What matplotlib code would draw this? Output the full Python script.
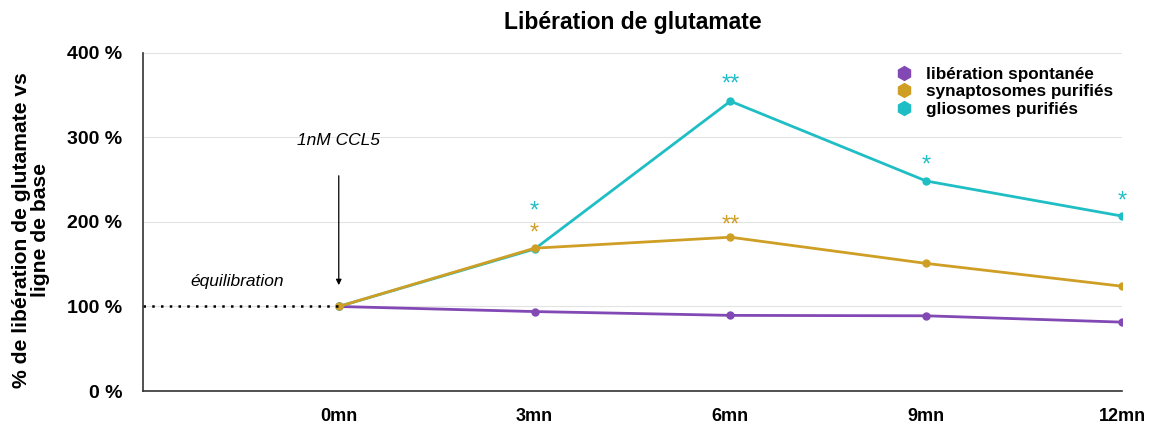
import matplotlib.pyplot as plt
from matplotlib.lines import Line2D

plt.rcParams['font.family'] = ['Liberation Sans', 'DejaVu Sans']

# data
times = ['0mn', '3mn', '6mn', '9mn', '12mn']
spontanee = [100, 94, 89.5, 89, 81.5]
synaptosomes = [100, 169, 182, 151, 124]
gliosomes = [100, 168, 343, 248.5, 207]

# significance stars: (index, y value, label)
stars_glio = [(1, 222, '*'), (2, 373, '**'), (3, 277, '*'), (4, 234, '*')]
stars_syn = [(1, 196, '*'), (2, 206, '**')]

c_spont = '#8248b4'
c_syn = '#cf9f25'
c_glio = '#1fbec4'

fig = plt.figure(figsize=(11.5, 4.25), dpi=100)
ax = fig.add_axes([0.1243, 0.08, 0.8514, 0.7953])

x = list(range(len(times)))
ax.plot(x, spontanee, color=c_spont, lw=2, marker='o', ms=5)
ax.plot(x, gliosomes, color=c_glio, lw=2, marker='o', ms=5)
ax.plot(x, synaptosomes, color=c_syn, lw=2, marker='o', ms=5)

# baseline dotted line
ax.plot([-1, 0], [100, 100], color='black', lw=1.8, ls=(0, (1, 2.5)))

for stars, col in ((stars_glio, c_glio), (stars_syn, c_syn)):
    for i, y, s in stars:
        ax.annotate(s, (i, y), xytext=(0, -6), textcoords='offset points',
                    color=col, ha='center', va='center', fontsize=17)

ax.annotate('', xy=(0, 122), xytext=(0, 258),
            arrowprops=dict(arrowstyle='-|>', color='black', lw=0.9, mutation_scale=8))
ax.text(0.0, 296, '1nM CCL5', style='italic', fontsize=12.5, ha='center', va='center')
ax.text(-0.52, 129, 'équilibration', style='italic', fontsize=12.5, ha='center', va='center')

ax.set_xlim(-1, 4)
ax.set_ylim(0, 400)
ax.set_xticks(x)
ax.set_xticklabels(times, fontweight='bold', fontsize=13)
ax.set_yticks([0, 100, 200, 300, 400])
ax.set_yticklabels([f'{v} %' for v in [0, 100, 200, 300, 400]], fontweight='bold', fontsize=14)
ax.tick_params(axis='y', length=0, pad=15)
ax.tick_params(axis='x', length=0, pad=12)
ax.yaxis.grid(True, color='#e3e3e3', lw=0.8)
ax.set_axisbelow(True)
for s in ['top', 'right']:
    ax.spines[s].set_visible(False)
for s in ['left', 'bottom']:
    ax.spines[s].set_color('#333333')
    ax.spines[s].set_linewidth(1.2)

ax.set_ylabel('% de libération de glutamate vs\nligne de base', fontweight='bold',
              fontsize=15.2, linespacing=1.0)
ax.yaxis.set_label_coords(-0.095, 0.476)
ax.set_title('Libération de glutamate', fontweight='bold', fontsize=16.5, pad=17)

# legend: markers only
handles = [Line2D([], [], color=c, marker='h', ls='', ms=10) for c in (c_spont, c_syn, c_glio)]
labels = ['libération spontanée', 'synaptosomes purifiés', 'gliosomes purifiés']
ax.legend(handles, labels, loc='upper right', bbox_to_anchor=(1.003, 0.995),
          frameon=False, prop=dict(weight='bold', size=12.3),
          handletextpad=0.3, labelspacing=0.15, borderaxespad=0.3)

fig.savefig('out.png', dpi=100)
